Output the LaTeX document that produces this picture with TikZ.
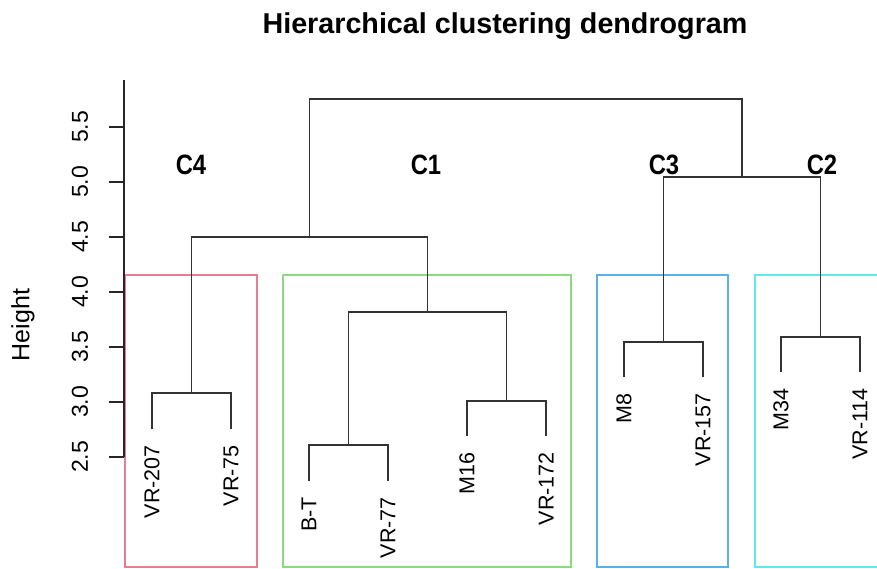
\documentclass[tikz,border=0pt]{standalone}
\usepackage{fontspec}
\setmainfont{Liberation Sans}
\definecolor{cred}{HTML}{DF536B}
\definecolor{cgreen}{HTML}{61D04F}
\definecolor{cblue}{HTML}{2297E6}
\definecolor{ccyan}{HTML}{28E2E5}
\tikzset{
  link/.style={draw=black!80, line width=1.4pt},
  clbox/.style={line width=1.4pt},
  leaflab/.style={rotate=90, anchor=east, inner sep=0pt, font=\fontsize{21.5}{24}\selectfont},
  ticklab/.style={rotate=90, anchor=center, inner sep=0pt, font=\fontsize{23}{26}\selectfont},
  cllab/.style={anchor=base, inner sep=0pt, font=\fontsize{28}{30}\selectfont\bfseries},
}
\begin{document}
\begin{tikzpicture}[x=1pt,y=-1pt]
\useasboundingbox (0,0) rectangle (877,568);
\clip (0,0) rectangle (877,568);
\fill[white] (0,0) rectangle (877,568);
% title
\node[anchor=base, inner sep=0pt, font=\fontsize{28.7}{31}\selectfont\bfseries] (title) at (505,33) {Hierarchical clustering dendrogram};
% cluster boxes
\draw[clbox, cred!75] (125,275) rectangle (257,567);
\draw[clbox, cgreen!75] (283,275) rectangle (571,567);
\draw[clbox, cblue!75] (597,275) rectangle (728,567);
\draw[clbox, ccyan!75] (755,275) rectangle (890,567);
% axis
\draw[line width=1.4pt, black!85] (124,80) -- (124,457);
\foreach \h/\y in {5.5/127,5.0/182,4.5/237,4.0/292,3.5/347,3.0/402,2.5/457}{
  \draw[line width=1.4pt, black!85] (109,\y) -- (124,\y);
  \node[ticklab] (t\h) at (80,\y) {\h};
}
\node[rotate=90, inner sep=0pt, font=\fontsize{25}{28}\selectfont] (ylab) at (23,325) {Height};
% leaf tips
\coordinate (l1) at (152,429);
\coordinate (l2) at (231,429);
\coordinate (l3) at (309,481);
\coordinate (l4) at (388,481);
\coordinate (l5) at (467,436);
\coordinate (l6) at (546,436);
\coordinate (l7) at (624,377);
\coordinate (l8) at (703,377);
\coordinate (l9) at (781,372);
\coordinate (l10) at (860,372);
% leaf labels
\node[leaflab] (n1) at ([yshift=-16pt]l1) {VR-207};
\node[leaflab] (n2) at ([yshift=-16pt]l2) {VR-75};
\node[leaflab] (n3) at ([yshift=-16pt]l3) {B-T};
\node[leaflab] (n4) at ([yshift=-16pt]l4) {VR-77};
\node[leaflab] (n5) at ([yshift=-16pt]l5) {M16};
\node[leaflab] (n6) at ([yshift=-16pt]l6) {VR-172};
\node[leaflab] (n7) at ([yshift=-16pt]l7) {M8};
\node[leaflab] (n8) at ([yshift=-16pt]l8) {VR-157};
\node[leaflab] (n9) at ([yshift=-16pt]l9) {M34};
\node[leaflab] (n10) at ([yshift=-16pt]l10) {VR-114};
% merges
\coordinate (m1) at (191.5,393);
\coordinate (m2) at (348.5,445);
\coordinate (m3) at (506.5,401);
\coordinate (m4) at (427.5,312);
\coordinate (m5) at (309.5,237);
\coordinate (m6) at (663.5,342);
\coordinate (m7) at (820.5,337);
\coordinate (m8) at (742,177);
\coordinate (m9) at (525.75,99);
\draw[link] (l1) |- (m1) -| (l2);
\draw[link] (l3) |- (m2) -| (l4);
\draw[link] (l5) |- (m3) -| (l6);
\draw[link] (m2) |- (m4) -| (m3);
\draw[link] (m1) |- (m5) -| (m4);
\draw[link] (l7) |- (m6) -| (l8);
\draw[link] (l9) |- (m7) -| (l10);
\draw[link] (m6) |- (m8) -| (m7);
\draw[link] (m5) |- (m9) -| (m8);
% cluster labels
\node[cllab] (c4) at (191,174) {\scalebox{0.85}[1]{C4}};
\node[cllab] (c1) at (426,174) {\scalebox{0.85}[1]{C1}};
\node[cllab] (c3) at (664,174) {\scalebox{0.85}[1]{C3}};
\node[cllab] (c2) at (822,174) {\scalebox{0.85}[1]{C2}};
\end{tikzpicture}
\end{document}
